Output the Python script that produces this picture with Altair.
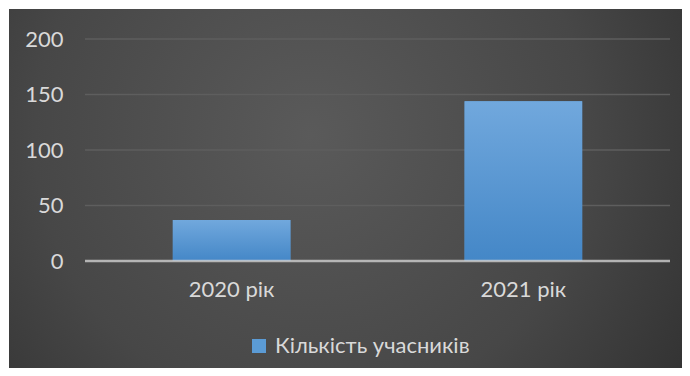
import altair as alt
import pandas as pd

years = ["2020 рік", "2021 рік"]
counts = [37, 144]
series_name = "Кількість учасників"
y_ticks = [0, 50, 100, 150, 200]
grid_values = [50, 100, 150, 200]

bars_df = pd.DataFrame({"year": years, "count": counts, "series": [series_name] * len(years)})
grid_df = pd.DataFrame({"v": grid_values})
zero_df = pd.DataFrame({"v": [0]})
bg_df = pd.DataFrame({"k": [0]})

FONT = "Lato"
LABEL = "#d9d9d9"

y_scale = alt.Scale(domain=[0, 200], nice=False)
x_scale = alt.Scale(domain=years, paddingInner=0.597, paddingOuter=0.301)

y_axis = alt.Axis(title=None, values=y_ticks, grid=False, domain=False,
                  ticks=False, labelPadding=22, labelFont=FONT,
                  labelFontSize=22, labelColor=LABEL, zindex=2)
x_axis = alt.Axis(title=None, labelAngle=0, domain=False, ticks=False,
                  labelPadding=18, labelFont=FONT, labelFontSize=22,
                  labelColor=LABEL, zindex=2)

bg_grad = alt.RadialGradient(
    gradient="radial",
    x1=0.45, y1=0.42, r1=0.0,
    x2=0.45, y2=0.42, r2=0.75,
    stops=[
        alt.GradientStop(offset=0, color="#5a5a5a"),
        alt.GradientStop(offset=0.55, color="#474747"),
        alt.GradientStop(offset=1, color="#2b2b2b"),
    ],
)

bar_grad = alt.LinearGradient(
    gradient="linear",
    x1=0, y1=0, x2=0, y2=1,
    stops=[
        alt.GradientStop(offset=0, color="#71a8dd"),
        alt.GradientStop(offset=1, color="#4487c7"),
    ],
)

bg = alt.Chart(bg_df).mark_rect(color=bg_grad).encode(
    x=alt.value(-76), x2=alt.value(597), y=alt.value(-30), y2=alt.value(329)
)

grid = alt.Chart(grid_df).mark_rule(color="#5e5e5e", strokeWidth=1.5).encode(
    y=alt.Y("v:Q", scale=y_scale, axis=y_axis)
)

bars_solid = alt.Chart(bars_df).mark_bar().encode(
    x=alt.X("year:N", scale=x_scale, sort=years, axis=x_axis),
    y=alt.Y("count:Q", scale=y_scale, axis=y_axis),
    color=alt.Color("series:N", scale=alt.Scale(range=["#5b9bd5"]),
                    legend=alt.Legend(title=None, orient="none", legendX=163,
                                      legendY=296, padding=0,
                                      symbolType="square", symbolSize=196,
                                      symbolStrokeWidth=0, labelOffset=5,
                                      labelFont=FONT, labelFontSize=22,
                                      labelColor=LABEL, labelLimit=400,
                                      zindex=2)),
)

bars_grad = alt.Chart(bars_df).mark_bar(fill=bar_grad).encode(
    x=alt.X("year:N", scale=x_scale, sort=years, axis=x_axis),
    y=alt.Y("count:Q", scale=y_scale, axis=y_axis),
)

zero = alt.Chart(zero_df).mark_rule(color="#d0d0d0", strokeWidth=2.5, opacity=0.8).encode(
    y=alt.Y("v:Q", scale=y_scale, axis=y_axis)
)

chart = alt.layer(bg, grid, bars_solid, bars_grad, zero).properties(
    width=585,
    height=222,
    autosize=alt.AutoSizeParams(type="none"),
    padding={"left": 77, "top": 31, "right": 12, "bottom": 107},
    background="white",
).configure_view(stroke=None)

chart.save("out.html", embed_options={"renderer": "svg", "actions": False})
